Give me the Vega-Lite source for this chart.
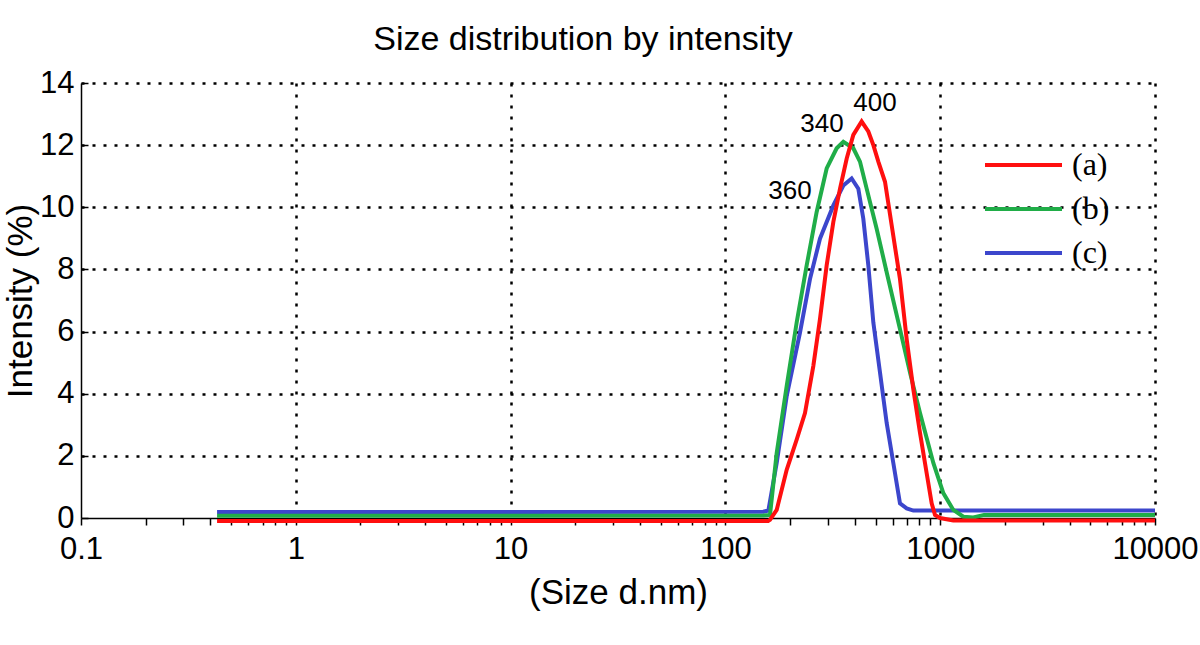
{
  "$schema": "https://vega.github.io/schema/vega-lite/v6.json",
  "autosize": {"type": "none"},
  "width": 1074,
  "height": 435,
  "padding": {"left": 81, "top": 83, "right": 45, "bottom": 127},
  "background": "white",
  "title": {
    "text": "Size distribution by intensity",
    "font": "Liberation Sans",
    "fontSize": 34,
    "fontWeight": "normal",
    "color": "black",
    "offset": 10,
    "dx": -35
  },
  "config": {
    "view": {"stroke": null},
    "axis": {
      "labelFont": "Liberation Sans",
      "labelFontSize": 31,
      "labelColor": "black",
      "labelFlush": false,
      "titleFont": "Liberation Sans",
      "titleFontSize": 35,
      "titleFontWeight": "normal",
      "titleColor": "black",
      "domainColor": "black",
      "domainWidth": 1.5,
      "tickColor": "black",
      "tickWidth": 1.5,
      "gridColor": "black",
      "gridDash": [3, 8],
      "gridWidth": 2.5,
      "labelOverlap": false
    }
  },
  "layer": [
    {
      "data": {
        "values": [
          {"series": "(c)", "size": 0.43, "intensity": 0.19},
          {"series": "(c)", "size": 150, "intensity": 0.2},
          {"series": "(c)", "size": 158.5, "intensity": 0.24},
          {"series": "(c)", "size": 173.3, "intensity": 1.77},
          {"series": "(c)", "size": 192.9, "intensity": 3.92},
          {"series": "(c)", "size": 222.5, "intensity": 5.97},
          {"series": "(c)", "size": 247.6, "intensity": 7.69},
          {"series": "(c)", "size": 275.6, "intensity": 8.99},
          {"series": "(c)", "size": 318.1, "intensity": 10.06},
          {"series": "(c)", "size": 354.0, "intensity": 10.7},
          {"series": "(c)", "size": 387.0, "intensity": 10.93},
          {"series": "(c)", "size": 415.7, "intensity": 10.6},
          {"series": "(c)", "size": 438.6, "intensity": 9.63},
          {"series": "(c)", "size": 462.8, "intensity": 8.13},
          {"series": "(c)", "size": 488.4, "intensity": 6.29},
          {"series": "(c)", "size": 524.5, "intensity": 4.68},
          {"series": "(c)", "size": 563.4, "intensity": 3.06},
          {"series": "(c)", "size": 605.0, "intensity": 1.77},
          {"series": "(c)", "size": 649.7, "intensity": 0.47},
          {"series": "(c)", "size": 698.2, "intensity": 0.31},
          {"series": "(c)", "size": 749.9, "intensity": 0.24},
          {"series": "(c)", "size": 10000, "intensity": 0.24},
          {"series": "(b)", "size": 0.43, "intensity": 0.07},
          {"series": "(b)", "size": 150, "intensity": 0.08},
          {"series": "(b)", "size": 161.3, "intensity": 0.1},
          {"series": "(b)", "size": 173.3, "intensity": 2.09},
          {"series": "(b)", "size": 192.9, "intensity": 4.25},
          {"series": "(b)", "size": 214.7, "intensity": 6.29},
          {"series": "(b)", "size": 239.0, "intensity": 8.13},
          {"series": "(b)", "size": 266.0, "intensity": 9.85},
          {"series": "(b)", "size": 296.1, "intensity": 11.25},
          {"series": "(b)", "size": 329.6, "intensity": 11.9},
          {"series": "(b)", "size": 354.0, "intensity": 12.11},
          {"series": "(b)", "size": 394.0, "intensity": 11.9},
          {"series": "(b)", "size": 423.2, "intensity": 11.47},
          {"series": "(b)", "size": 454.6, "intensity": 10.6},
          {"series": "(b)", "size": 506.0, "intensity": 9.31},
          {"series": "(b)", "size": 563.4, "intensity": 7.91},
          {"series": "(b)", "size": 649.7, "intensity": 6.08},
          {"series": "(b)", "size": 723.5, "intensity": 4.68},
          {"series": "(b)", "size": 805.4, "intensity": 3.38},
          {"series": "(b)", "size": 929.0, "intensity": 1.77},
          {"series": "(b)", "size": 1034, "intensity": 0.8},
          {"series": "(b)", "size": 1151, "intensity": 0.26},
          {"series": "(b)", "size": 1282, "intensity": 0.04},
          {"series": "(b)", "size": 1426, "intensity": 0.02},
          {"series": "(b)", "size": 1600, "intensity": 0.1},
          {"series": "(b)", "size": 10000, "intensity": 0.1},
          {"series": "(a)", "size": 0.43, "intensity": -0.1},
          {"series": "(a)", "size": 158, "intensity": -0.1},
          {"series": "(a)", "size": 161.3, "intensity": -0.06},
          {"series": "(a)", "size": 173.3, "intensity": 0.26},
          {"series": "(a)", "size": 192.9, "intensity": 1.55},
          {"series": "(a)", "size": 214.7, "intensity": 2.52},
          {"series": "(a)", "size": 234.7, "intensity": 3.38},
          {"series": "(a)", "size": 256.6, "intensity": 4.89},
          {"series": "(a)", "size": 275.6, "intensity": 6.4},
          {"series": "(a)", "size": 296.1, "intensity": 8.13},
          {"series": "(a)", "size": 318.1, "intensity": 9.53},
          {"series": "(a)", "size": 341.7, "intensity": 10.6},
          {"series": "(a)", "size": 367.1, "intensity": 11.57},
          {"series": "(a)", "size": 394.0, "intensity": 12.33},
          {"series": "(a)", "size": 430.8, "intensity": 12.76},
          {"series": "(a)", "size": 462.8, "intensity": 12.44},
          {"series": "(a)", "size": 488.4, "intensity": 12.0},
          {"series": "(a)", "size": 515.2, "intensity": 11.47},
          {"series": "(a)", "size": 553.4, "intensity": 10.82},
          {"series": "(a)", "size": 594.4, "intensity": 9.42},
          {"series": "(a)", "size": 649.7, "intensity": 7.69},
          {"series": "(a)", "size": 698.2, "intensity": 5.75},
          {"series": "(a)", "size": 749.9, "intensity": 4.14},
          {"series": "(a)", "size": 805.4, "intensity": 2.74},
          {"series": "(a)", "size": 865.0, "intensity": 1.44},
          {"series": "(a)", "size": 912.6, "intensity": 0.47},
          {"series": "(a)", "size": 945.8, "intensity": 0.1},
          {"series": "(a)", "size": 998, "intensity": 0.0},
          {"series": "(a)", "size": 1151, "intensity": -0.08},
          {"series": "(a)", "size": 10000, "intensity": -0.08}
        ]
      },
      "mark": {"type": "line", "strokeWidth": 4, "clip": false},
      "encoding": {
        "x": {
          "field": "size",
          "type": "quantitative",
          "scale": {"type": "log", "domain": [0.1, 10000], "nice": false},
          "axis": {
            "title": "(Size d.nm)",
            "titlePadding": 11,
            "values": [0.1, 0.2, 0.3, 0.4, 0.5, 0.6, 0.7, 0.8, 0.9, 1, 2, 3, 4, 5, 6, 7, 8, 9, 10, 20, 30, 40, 50, 60, 70, 80, 90, 100, 200, 300, 400, 500, 600, 700, 800, 900, 1000, 2000, 3000, 4000, 5000, 6000, 7000, 8000, 9000, 10000],
            "labelExpr": "indexof([0.1, 1, 10, 100, 1000, 10000], datum.value) >= 0 ? format(datum.value, '~g') : ''",
            "labelPadding": 9,
            "tickSize": 7,
            "gridOpacity": {"condition": {"test": "indexof([1, 10, 100, 1000, 10000], datum.value) >= 0", "value": 1}, "value": 0}
          }
        },
        "y": {
          "field": "intensity",
          "type": "quantitative",
          "scale": {"domain": [0, 14], "nice": false},
          "axis": {
            "title": "Intensity (%)",
            "titlePadding": 1,
            "values": [0, 1, 2, 3, 4, 5, 6, 7, 8, 9, 10, 11, 12, 13, 14],
            "labelExpr": "datum.value % 2 == 0 ? datum.label : ''",
            "labelPadding": 14,
            "tickSize": -7,
            "gridOpacity": {"condition": {"test": "datum.value % 2 == 0 && datum.value > 0", "value": 1}, "value": 0}
          }
        },
        "color": {
          "field": "series",
          "type": "nominal",
          "scale": {"domain": ["(a)", "(b)", "(c)"], "range": ["#ff0f0f", "#20ad48", "#3c46cc"]},
          "legend": {
            "title": null,
            "orient": "none",
            "legendX": 902,
            "legendY": 60,
            "padding": 0,
            "symbolType": "stroke",
            "symbolSize": 5929,
            "symbolStrokeWidth": 4,
            "clipHeight": 44,
            "rowPadding": 0,
            "labelFont": "Liberation Serif",
            "labelFontSize": 32,
            "labelColor": "black",
            "labelOffset": 8
          }
        },
        "order": {"field": "size", "type": "quantitative"}
      }
    },
    {
      "data": {
        "values": [
          {"size": 497, "intensity": 13.35, "label": "400"},
          {"size": 281.6, "intensity": 12.67, "label": "340"},
          {"size": 199.9, "intensity": 10.54, "label": "360"}
        ]
      },
      "mark": {"type": "text", "font": "Liberation Sans", "fontSize": 26, "color": "black", "align": "center", "baseline": "middle"},
      "encoding": {
        "x": {"field": "size", "type": "quantitative"},
        "y": {"field": "intensity", "type": "quantitative"},
        "text": {"field": "label"}
      }
    }
  ]
}
